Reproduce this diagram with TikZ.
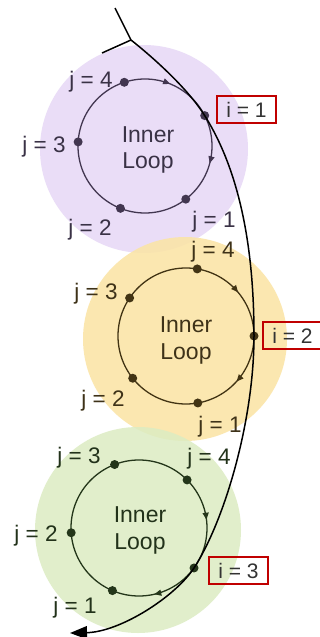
\documentclass[tikz,border=0pt]{standalone}
\usepackage{fontspec}
\setmainfont{Liberation Sans}
\usetikzlibrary{arrows.meta,calc}
\definecolor{purp}{RGB}{234,221,247}
\definecolor{yell}{RGB}{251,228,166}
\definecolor{gren}{RGB}{220,236,194}
\definecolor{pline}{RGB}{66,54,80}
\definecolor{yline}{RGB}{66,52,20}
\definecolor{gline}{RGB}{36,54,26}
\definecolor{ptxt}{RGB}{58,50,70}
\definecolor{ytxt}{RGB}{62,50,24}
\definecolor{gtxt}{RGB}{34,50,26}
\definecolor{boxred}{RGB}{192,0,0}
\begin{document}
\begin{tikzpicture}[x=1pt,y=-1pt,
  innerloop/.style={line width=1.3pt},
  looptip/.style={line width=1.3pt, -{Triangle[length=7pt,width=6pt]}},
  dot/.style={circle, inner sep=0pt, minimum size=9pt},
  lbl/.style={font=\fontsize{22.5}{26}\selectfont, inner sep=0pt, anchor=base},
  ttl/.style={font=\fontsize{23}{27}\selectfont, inner sep=0pt, anchor=base},
  ibox/.style={draw=boxred, line width=2.2pt, rectangle, inner sep=0pt,
      minimum width=59pt, minimum height=27pt, text=black!80,
      font=\fontsize{21}{25}\selectfont},
  outer/.style={line width=1.5pt, black}
]
\useasboundingbox[fill=white] (0,0) rectangle (320,637);

% big coloured discs
\fill[purp] (144,149) circle[radius=104];
\fill[yell, fill opacity=0.88] (185,339) circle[radius=102];
\fill[gren, fill opacity=0.85] (138,530) circle[radius=103];

% centres of the inner loops
\coordinate (pc) at (145,146);
\coordinate (yc) at (186,336);
\coordinate (gc) at (139,528);

% inner loops
\draw[innerloop, pline] (pc) circle[radius=67];
\draw[innerloop, yline] (yc) circle[radius=68];
\draw[innerloop, gline] (gc) circle[radius=68];

% direction arrows on the inner loops
\draw[looptip, pline] ($(pc)+(286:67)$) arc[start angle=286, end angle=292, radius=67];
\draw[looptip, pline] ($(pc)+(9:67)$) arc[start angle=9, end angle=15, radius=67];
\draw[looptip, yline] ($(yc)+(314:68)$) arc[start angle=314, end angle=320, radius=68];
\draw[looptip, yline] ($(yc)+(36:68)$) arc[start angle=36, end angle=42, radius=68];
\draw[looptip, gline] ($(gc)+(347:68)$) arc[start angle=347, end angle=353, radius=68];
\draw[looptip, gline] ($(gc)+(71:68)$) arc[start angle=71, end angle=77, radius=68];

% dots, purple
\node[dot, fill=pline] (p4) at ($(pc)+(252:67)$) {};
\node[dot, fill=pline] (p3) at ($(pc)+(183.5:67)$) {};
\node[dot, fill=pline] (p2) at ($(pc)+(111.5:67)$) {};
\node[dot, fill=pline] (p1) at ($(pc)+(52.5:67)$) {};
\node[dot, fill=pline] (i1) at ($(pc)+(333:67)$) {};
% dots, yellow
\node[dot, fill=yline] (y4) at ($(yc)+(279.5:68)$) {};
\node[dot, fill=yline] (y3) at ($(yc)+(214:68)$) {};
\node[dot, fill=yline] (y2) at ($(yc)+(141.6:68)$) {};
\node[dot, fill=yline] (y1) at ($(yc)+(80:68)$) {};
\node[dot, fill=yline] (i2) at ($(yc)+(0:68)$) {};
% dots, green
\node[dot, fill=gline] (g3) at ($(gc)+(249:68)$) {};
\node[dot, fill=gline] (g4) at ($(gc)+(315:68)$) {};
\node[dot, fill=gline] (g2) at ($(gc)+(176:68)$) {};
\node[dot, fill=gline] (g1) at ($(gc)+(113:68)$) {};
\node[dot, fill=gline] (i3) at ($(gc)+(36:68)$) {};

% outer loop
\coordinate (s) at (115,8);
\coordinate (J) at (131,40);
\coordinate (T) at (102,53);
\coordinate (e) at (70,633);
\draw[outer] (J) -- (T);
\draw[outer, -{Triangle[length=17pt,width=13pt]}] (s) -- (J)
  .. controls (160,63) and (190,92) .. (i1.center)
  .. controls (242,175) and (254,255) .. (i2.center)
  .. controls (254,420) and (225,520) .. (i3.center)
  .. controls (175,597) and (120,632) .. (e);

% titles
\node[ttl, text=ptxt] (pt1) at (148,142) {Inner};
\node[ttl, text=ptxt] (pt2) at (148,168) {Loop};
\node[ttl, text=ytxt] (yt1) at (186,332) {Inner};
\node[ttl, text=ytxt] (yt2) at (186,359) {Loop};
\node[ttl, text=gtxt] (gt1) at (140,522) {Inner};
\node[ttl, text=gtxt] (gt2) at (140,549) {Loop};

% labels, purple
\node[lbl, text=ptxt] (lp4) at (91,87) {j = 4};
\node[lbl, text=ptxt] (lp3) at (44,152) {j = 3};
\node[lbl, text=ptxt] (lp2) at (90,235) {j = 2};
\node[lbl, text=ptxt] (lp1) at (214,227) {j = 1};
% labels, yellow
\node[lbl, text=ytxt] (ly4) at (213,257) {j = 4};
\node[lbl, text=ytxt] (ly3) at (96,299) {j = 3};
\node[lbl, text=ytxt] (ly2) at (103,406) {j = 2};
\node[lbl, text=ytxt] (ly1) at (220,432) {j = 1};
% labels, green
\node[lbl, text=gtxt] (lg3) at (79,463) {j = 3};
\node[lbl, text=gtxt] (lg4) at (209,464) {j = 4};
\node[lbl, text=gtxt] (lg2) at (36,541) {j = 2};
\node[lbl, text=gtxt] (lg1) at (75,613) {j = 1};

% i boxes
\node[ibox] (b1) at (246.5,109.5) {i = 1};
\node[ibox] (b2) at (292.5,335.5) {i = 2};
\node[ibox] (b3) at (238.5,570.5) {i = 3};
\end{tikzpicture}
\end{document}
